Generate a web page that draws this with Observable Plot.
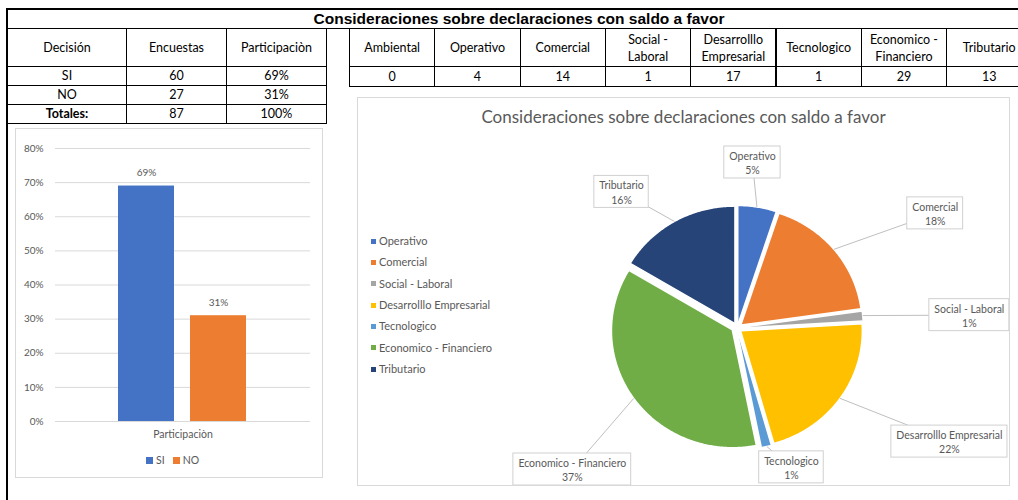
<!DOCTYPE html>
<html><head><meta charset="utf-8">
<script src="https://cdn.jsdelivr.net/npm/d3@7"></script>
<script src="https://cdn.jsdelivr.net/npm/@observablehq/plot@0.6"></script>
<style>
body{margin:0;background:#fff;}
#root{position:relative;width:1018px;height:500px;overflow:hidden;background:#fff;font-family:Lato,"Noto Sans",sans-serif;}
.cell{position:absolute;box-sizing:border-box;border:1px solid #000;display:flex;justify-content:center;text-align:center;font-size:12.5px;line-height:16px;color:#000;}
.panel{position:absolute;box-sizing:border-box;border:1px solid #d9d9d9;background:#fff;}
.panel svg{display:block;background:transparent;}
.lg{position:absolute;font-size:11px;color:#595959;white-space:nowrap;}
.sw{display:inline-block;width:5px;height:5px;margin-right:3px;vertical-align:middle;position:relative;top:-1px;}
</style></head>
<body><div id="root"></div>
<script>
// ---------------- data ----------------
const tableTitle = "Consideraciones sobre declaraciones con saldo a favor";
const leftHeaders = ["Decisión", "Encuestas", "Participaciòn"];
const decisiones = ["SI", "NO"];
const encuestas = [60, 27];
const participacion = [0.69, 0.31];
const totalLabel = "Totales:";
const totalEncuestas = 87;
const totalParticipacion = 1.0;

const consideraciones = ["Ambiental", "Operativo", "Comercial", "Social - Laboral", "Desarrolllo Empresarial", "Tecnologico", "Economico - Financiero", "Tributario"];
const consideracionHeaders = ["Ambiental", "Operativo", "Comercial", "Social -<br>Laboral", "Desarrolllo<br>Empresarial", "Tecnologico", "Economico -<br>Financiero", "Tributario"];
const conteos = [0, 4, 14, 1, 17, 1, 29, 13];

const barCategory = "Participaciòn";
const barTicks = [0, 0.1, 0.2, 0.3, 0.4, 0.5, 0.6, 0.7, 0.8];
const pieTitle = "Consideraciones sobre declaraciones con saldo a favor";

// ---------------- styles / layout ----------------
const barColors = ["#4472C4", "#ED7D31"];
const pieColors = ["#4472C4", "#ED7D31", "#A5A5A5", "#FFC000", "#5B9BD5", "#70AD47", "#264478"];
// label placement: angle (deg, clockwise from 12 o'clock) and distance in pie radii
const labelPlacement = [[5.2, 1.418], [59.2, 1.908], [86.8, 1.924], [119.0, 2.008], [159.3, 1.276], [228.3, 1.822], [320.6, 1.502]];

const root = document.getElementById("root");
const pct = d3.format(".0%");

function div(cls, x, y, w, h, html, style) {
  const d = document.createElement("div");
  d.className = cls;
  Object.assign(d.style, {left: x + "px", top: y + "px"}, w != null ? {width: w + "px"} : {}, h != null ? {height: h + "px"} : {}, style || {});
  if (html != null) d.innerHTML = html;
  root.appendChild(d);
  return d;
}

// outer frame + title row
div("", 6, 9, 2, 491, null, {position: "absolute", background: "#000"});
div("", 6, 8, 1012, 21, null, {position: "absolute", boxSizing: "border-box", borderTop: "2px solid #000", borderBottom: "1px solid #000"});
div("", 7, 10, 1024, 18, tableTitle, {position: "absolute", textAlign: "center", font: "bold 15.5px 'Liberation Sans', Arial, sans-serif", lineHeight: "18px", color: "#000"});

// left table
const lx = [7, 126, 226, 326];
const ly = [28, 66, 85, 104, 123];
function cellL(c, r, html, extra) {
  return div("cell", lx[c], ly[r], lx[c + 1] - lx[c] + 1, ly[r + 1] - ly[r] + 1, html, Object.assign({alignItems: r === 0 ? "center" : "flex-end", paddingBottom: r === 0 ? "0" : "1px"}, extra || {}));
}
leftHeaders.forEach((h, c) => cellL(c, 0, h));
decisiones.forEach((d, i) => {
  cellL(0, i + 1, d);
  cellL(1, i + 1, String(encuestas[i]));
  cellL(2, i + 1, pct(participacion[i]));
});
cellL(0, 3, totalLabel, {fontWeight: "bold"});
cellL(1, 3, String(totalEncuestas));
cellL(2, 3, pct(totalParticipacion));

// right table
const rx0 = 349, rw = 85.3, ry = [28, 66, 86];
consideraciones.forEach((c, i) => {
  const x = rx0 + i * rw;
  div("cell", x, ry[0], rw + 1, ry[1] - ry[0] + 1, consideracionHeaders[i], {alignItems: "center", lineHeight: "17px"});
  div("cell", x, ry[1], rw + 1, ry[2] - ry[1] + 1, String(conteos[i]), {alignItems: "flex-end", paddingBottom: "1px"});
});

// ---------------- bar chart ----------------
const barData = decisiones.map((d, i) => ({cat: d, share: participacion[i]}));
const barPanel = div("panel", 15, 128, 308, 350);
const barW = 306, barH = 348;
const barPlot = Plot.plot({
  width: barW, height: barH,
  marginLeft: 39, marginRight: 12, marginTop: 19, marginBottom: 56,
  style: {background: "transparent", color: "#595959", fontFamily: "Lato, sans-serif"},
  x: {type: "band", domain: decisiones, range: [101, 231], paddingInner: 0.219, paddingOuter: 0, axis: null},
  y: {domain: [0, 0.8], axis: null},
  color: {domain: decisiones, range: barColors},
  marks: [
    Plot.gridY(barTicks, {stroke: "#d9d9d9", strokeOpacity: 1}),
    Plot.axisY(barTicks, {tickSize: 0, tickPadding: 12, tickFormat: pct, fontSize: 10, label: null}),
    Plot.barY(barData, {x: "cat", y: "share", fill: "cat"}),
    Plot.text(barData, {x: "cat", y: "share", text: d => pct(d.share), dy: -13, fontSize: 10, fill: "#595959"}),
    Plot.text([barCategory], {frameAnchor: "bottom", lineAnchor: "middle", dy: 13, text: d => d, fontSize: 10.5, fill: "#595959"})
  ]
});
barPanel.appendChild(barPlot);
// legend for bars
div("lg", 146, 454, null, null, decisiones.map((d, i) => `<span class="sw" style="width:7px;height:7px;background:${barColors[i]}"></span>${d}`).join('<span style="display:inline-block;width:8px"></span>'), {fontSize: "10.5px"});

// ---------------- pie chart ----------------
const pieData = consideraciones.map((c, i) => ({cat: c, value: conteos[i]})).filter(d => d.value > 0);
const pieCats = pieData.map(d => d.cat);
const total = d3.sum(pieData, d => d.value);
const arcs = d3.pie().sort(null).value(d => d.value)(pieData);
const EXPLODE = 0.045;
const LABEL_FS = 10.5;
const slicePts = [];
const labelData = [];
const canvas = document.createElement("canvas").getContext("2d");
canvas.font = LABEL_FS + "px Lato";
arcs.forEach((a, i) => {
  const cat = a.data.cat;
  const mid = (a.startAngle + a.endAngle) / 2;
  const ox = EXPLODE * Math.sin(mid), oy = EXPLODE * Math.cos(mid);
  slicePts.push({cat, x: ox, y: oy});
  const n = Math.max(6, Math.ceil((a.endAngle - a.startAngle) / 0.01));
  for (let k = 0; k <= n; k++) {
    const t = a.startAngle + (a.endAngle - a.startAngle) * k / n;
    slicePts.push({cat, x: ox + Math.sin(t), y: oy + Math.cos(t)});
  }
  const [ang, dist] = labelPlacement[i];
  const th = ang * Math.PI / 180;
  const pctText = pct(a.data.value / total);
  const w = Math.max(canvas.measureText(cat).width, canvas.measureText(pctText).width);
  labelData.push({
    cat, text: cat + "\n" + pctText,
    ex: (1 + EXPLODE) * Math.sin(mid), ey: (1 + EXPLODE) * Math.cos(mid),
    lx: dist * Math.sin(th), ly: dist * Math.cos(th), w
  });
});

const pieX = 357, pieY = 97, pieW = 653, pieH = 389;
const pieCx = 736.4 - pieX, pieCy = 327.2 - pieY, pieRx = 121, pieRy = 117;
const piePanel = div("panel", pieX, pieY, pieW, pieH);
const innerW = pieW - 2, innerH = pieH - 2;
const pxX = 1 / pieRx, pxY = 1 / pieRy;
const piePlot = Plot.plot({
  width: innerW, height: innerH,
  margin: 0,
  style: {background: "transparent", fontFamily: "Lato, sans-serif"},
  x: {domain: [-(pieCx - 1) / pieRx, (innerW - pieCx + 1) / pieRx], range: [0, innerW], axis: null},
  y: {domain: [-(innerH - pieCy + 1) / pieRy, (pieCy - 1) / pieRy], range: [innerH, 0], axis: null},
  color: {domain: pieCats, range: pieColors},
  marks: [
    Plot.line(slicePts, {x: "x", y: "y", z: "cat", fill: "cat", stroke: "white", strokeWidth: 1.5, curve: "linear"}),
    Plot.link(labelData, {x1: "ex", y1: "ey", x2: "lx", y2: "ly", stroke: "#bfbfbf", strokeWidth: 1}),
    Plot.rect(labelData, {x1: d => d.lx - (d.w / 2 + 5) * pxX, x2: d => d.lx + (d.w / 2 + 5) * pxX, y1: d => d.ly - 16 * pxY, y2: d => d.ly + 16 * pxY, fill: "white", stroke: "#d0d0d0", strokeWidth: 1}),
    Plot.text(labelData, {x: "lx", y: "ly", text: "text", lineHeight: 1.35, fontSize: LABEL_FS, fill: "#595959"})
  ]
});
piePanel.appendChild(piePlot);
div("lg", pieX, 106, pieW, null, pieTitle, {textAlign: "center", fontSize: "17px", color: "#595959"});
pieCats.forEach((c, i) => {
  div("lg", 371, 234 + i * 21.3, null, null, `<span class="sw" style="background:${pieColors[i]}"></span>${c}`);
});
</script>
</body></html>
